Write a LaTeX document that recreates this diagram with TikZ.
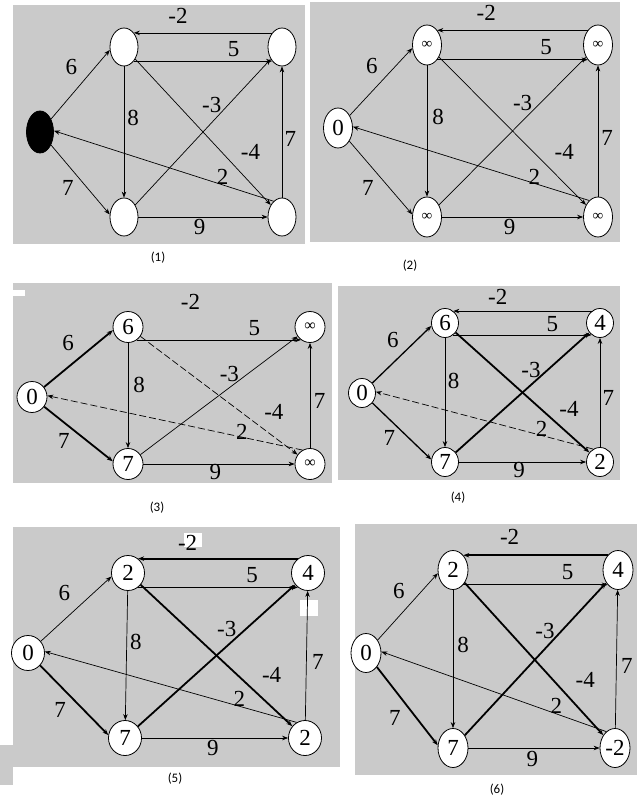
\documentclass[tikz,border=0pt]{standalone}
\usepackage{fontspec}
\setmainfont{Liberation Serif}
\newfontfamily\labfont{Liberation Serif}
\newfontfamily\capfont{Carlito}
\usetikzlibrary{arrows.meta,shapes.geometric,calc}
\definecolor{bggray}{RGB}{202,202,202}
\tikzset{
  gnode/.style={ellipse, draw=black, line width=0.8pt, fill=white, inner sep=0pt,
    minimum width=28pt, minimum height=38pt, font=\labfont\fontsize{23}{23}\selectfont},
  snode/.style={},
  gedge/.style={line width=0.7pt, -{Stealth[length=6pt,width=4.5pt]}},
  wlab/.style={font=\labfont\fontsize{23}{23}\selectfont, inner sep=0pt},
  capstyle/.style={font=\capfont\fontsize{13}{13}\selectfont, inner sep=0pt},
  boldedge/.style={line width=1.8pt},
  dashedge/.style={dash pattern=on 7pt off 3pt},
  noedge/.style={draw=none,-},
  e6/.style={}, e7/.style={}, em2/.style={}, e5/.style={}, e8/.style={},
  em3/.style={}, em4/.style={}, e2/.style={}, e9/.style={}, e7r/.style={},
}
\newcommand\mygraph[6]{%
  \node[gnode,snode] (#1s) at #2 {\nts};
  \node[gnode] (#1a) at #3 {\nta};
  \node[gnode] (#1b) at #4 {\ntb};
  \node[gnode] (#1c) at #5 {\ntc};
  \node[gnode] (#1d) at #6 {\ntd};
  \draw[gedge,e6] (#1s) -- (#1a.192);
  \draw[gedge,e7] (#1s) -- (#1c.170);
  \draw[gedge,em2] (#1b.125) -- (#1a.55);
  \draw[gedge,e5] (#1a.-55) -- (#1b.-125);
  \draw[gedge,e8] (#1a) -- (#1c);
  \draw[gedge,em3] (#1c) -- (#1b);
  \draw[gedge,em4] (#1a) -- (#1d);
  \draw[gedge,e2] (#1d.118) -- (#1s.5);
  \draw[gedge,e9] (#1c) -- (#1d);
  \draw[gedge,e7r] (#1d) -- (#1b);
  \path let \p1=(#1s), \p2=(#1b), \p3=(#1a), \p4=(#1c) in
    node[wlab] (#1l6) at ({\x1+0.13*(\x2-\x1)},{\y3+0.12*(\y4-\y3)}) {6}
    node[wlab] (#1lm2) at ({\x1+0.57*(\x2-\x1)},{\y3-0.185*(\y4-\y3)}) {-2}
    node[wlab] (#1l5) at ({\x1+0.80*(\x2-\x1)},{\y3+0.01*(\y4-\y3)}) {5}
    node[wlab] (#1l8) at ({\x1+0.385*(\x2-\x1)},{\y3+0.42*(\y4-\y3)}) {8}
    node[wlab] (#1lm3) at ({\x1+0.71*(\x2-\x1)},{\y3+0.34*(\y4-\y3)}) {-3}
    node[wlab] (#1lm4) at ({\x1+0.87*(\x2-\x1)},{\y3+0.62*(\y4-\y3)}) {-4}
    node[wlab] (#1l7r) at ({\x1+1.035*(\x2-\x1)},{\y3+0.54*(\y4-\y3)}) {7}
    node[wlab] (#1l2) at ({\x1+0.755*(\x2-\x1)},{\y3+0.765*(\y4-\y3)}) {2}
    node[wlab] (#1l7l) at ({\x1+0.115*(\x2-\x1)},{\y3+0.83*(\y4-\y3)}) {7}
    node[wlab] (#1l9) at ({\x1+0.66*(\x2-\x1)},{\y3+1.06*(\y4-\y3)}) {9};
}
\begin{document}
\begin{tikzpicture}[x=1pt,y=-1pt]
\useasboundingbox (0,0) rectangle (638,799);
\fill[white] (0,0) rectangle (638,799);

% ---------- panel 1
\begin{scope}[snode/.style={fill=black, minimum height=42pt, minimum width=27pt}]
\fill[bggray] (13,5) rectangle (305,244);
\def\nts{}\def\nta{}\def\ntb{}\def\ntc{}\def\ntd{}
\mygraph{p1}{(40,132)}{(124,47)}{(282,47)}{(124,217)}{(282,217)}
\end{scope}
\node[capstyle] (cap1) at (158,258) {(1)};

% ---------- panel 2
\begin{scope}[gnode/.append style={minimum width=29pt, minimum height=40pt}]
\fill[bggray] (310,2) rectangle (620,242);
\def\nts{0}\def\inf{{\fontsize{15}{15}\selectfont ∞}}
\def\nta{\inf}\def\ntb{\inf}\def\ntc{\inf}\def\ntd{\inf}
\mygraph{p2}{(338,128)}{(427,45)}{(598,45)}{(427,217)}{(598,217)}
\end{scope}
\node[capstyle] (cap2) at (410,266) {(2)};

% ---------- panel 3
\begin{scope}[gnode/.append style={minimum width=30pt, minimum height=31pt},
  e6/.style={boldedge}, e7/.style={boldedge}, em2/.style={noedge},
  em4/.style={dashedge}, e2/.style={dashedge}]
\fill[bggray] (13,283) rectangle (332,483);
\fill[white] (13,290) rectangle (25,296);
\def\inf{{\fontsize{16}{16}\selectfont ∞}}
\def\nts{0}\def\nta{6}\def\ntb{\inf}\def\ntc{7}\def\ntd{\inf}
\mygraph{p3}{(32,397)}{(128,327)}{(310,327)}{(128,464)}{(310,464)}
\end{scope}
\node[capstyle] (cap3) at (157,508) {(3)};

% ---------- panel 4
\begin{scope}[gnode/.append style={minimum width=27pt, minimum height=29pt},
  e6/.style={line width=1.3pt}, e7/.style={line width=1.3pt},
  em3/.style={boldedge}, em4/.style={boldedge}, e2/.style={dashedge}]
\fill[bggray] (338,286) rectangle (620,480);
\def\nts{0}\def\nta{6}\def\ntb{4}\def\ntc{7}\def\ntd{2}
\mygraph{p4}{(362,393)}{(445,323)}{(600,323)}{(445,462)}{(600,462)}
\end{scope}
\node[capstyle] (cap4) at (458,498) {(4)};

% ---------- panel 5
\begin{scope}[gnode/.append style={minimum width=33pt, minimum height=35pt},
  e7/.style={boldedge}, em2/.style={boldedge}, em3/.style={boldedge}, em4/.style={boldedge}]
\fill[bggray] (13,527) rectangle (340,767);
\fill[bggray] (0,745) rectangle (13,785);
\fill[white] (184,533) rectangle (202,547);
\fill[white] (300,600) rectangle (318,616);
\def\nts{0}\def\nta{2}\def\ntb{4}\def\ntc{7}\def\ntd{2}
\mygraph{p5}{(28,653)}{(128,573)}{(308,573)}{(125,738)}{(305,738)}
\end{scope}
\node[capstyle] (cap5) at (175,779) {(5)};

% ---------- panel 6
\begin{scope}[gnode/.append style={minimum width=30pt, minimum height=39pt},
  e7/.style={boldedge}, em2/.style={boldedge}, em3/.style={boldedge}, em4/.style={boldedge}]
\fill[bggray] (355,524) rectangle (637,775);
\def\nts{0}\def\nta{2}\def\ntb{4}\def\ntc{7}\def\ntd{-2}
\mygraph{p6}{(366,653)}{(453,570)}{(618,570)}{(453,748)}{(615,748)}
\end{scope}
\node[capstyle] (cap6) at (497,790) {(6)};
\end{tikzpicture}
\end{document}
